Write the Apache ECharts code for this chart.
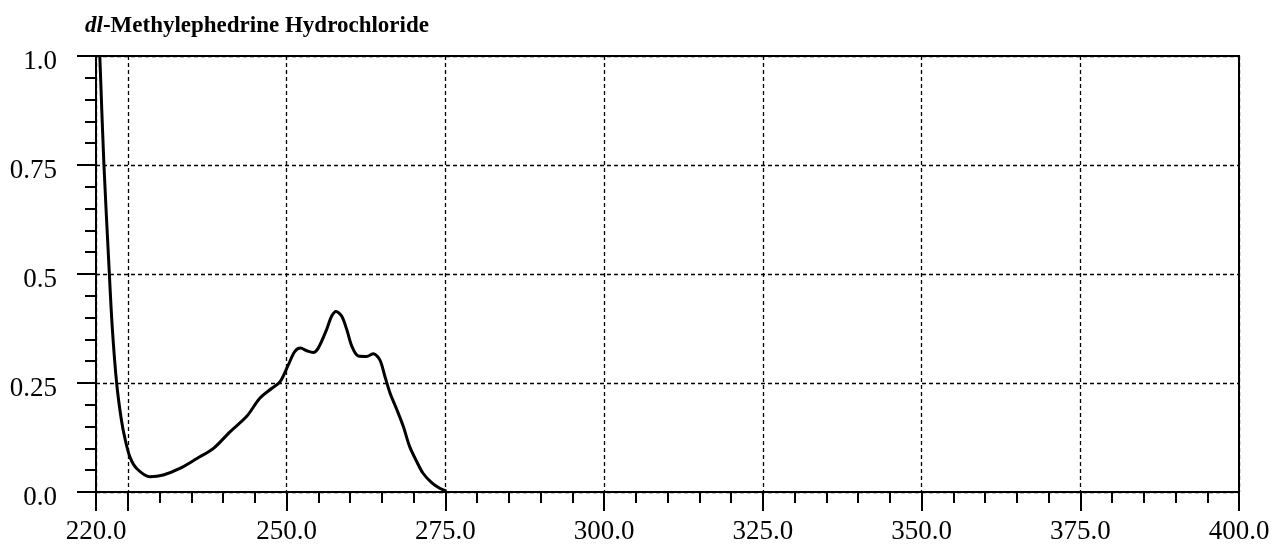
<!DOCTYPE html>
<html>
<head>
<meta charset="utf-8">
<script src="https://cdn.jsdelivr.net/npm/echarts@6/dist/echarts.min.js"></script>
<style>html,body{margin:0;padding:0;background:#fff;}#c{width:1277px;height:548px;}</style>
</head>
<body>
<div id="c"></div>
<script>
var wavelength = [220.6, 221.25, 222.0, 222.55, 223.25, 224.0, 224.6, 225.35, 226.4, 228.5, 230.6, 233.2, 235.9, 238.5, 241.1, 243.7, 245.8, 247.7, 249.0, 250.3, 251.3, 252.2, 253.2, 254.2, 255.0, 256.3, 257.1, 257.8, 258.7, 259.5, 260.3, 261.3, 262.6, 263.7, 264.7, 265.5, 266.3, 267.4, 268.4, 269.4, 270.5, 271.5, 272.9, 274.2, 275.2];
var absorbance = [1.0, 0.75, 0.53, 0.38, 0.25, 0.165, 0.12, 0.08, 0.054, 0.035, 0.039, 0.054, 0.077, 0.100, 0.138, 0.173, 0.215, 0.238, 0.253, 0.292, 0.322, 0.330, 0.324, 0.320, 0.330, 0.372, 0.403, 0.414, 0.403, 0.372, 0.334, 0.312, 0.311, 0.317, 0.303, 0.265, 0.227, 0.188, 0.150, 0.104, 0.070, 0.043, 0.021, 0.008, 0.002];
var xMajorTicks = [220, 225, 250, 275, 300, 325, 350, 375, 400];
var xLabels = [220, 250, 275, 300, 325, 350, 375, 400];
var yLabels = {0: '0.0', 0.25: '0.25', 0.5: '0.5', 0.75: '0.75', 1: '1.0'};
var titleMain = '-Methylephedrine Hydrochloride';
var titleItalic = 'dl';

var FONT = 'Liberation Serif';
var chart = echarts.init(document.getElementById('c'), null, {renderer: 'canvas'});
var dash = {color: '#000', width: 1.3, type: [4, 3]};
var data = wavelength.map(function (w, i) { return [w, absorbance[i]]; });
chart.setOption({
  animation: false,
  backgroundColor: '#fff',
  title: {
    text: '{i|' + titleItalic + '}{b|' + titleMain + '}',
    left: 80, top: 10,
    textStyle: {
      rich: {
        i: {fontFamily: FONT, fontSize: 23, fontWeight: 'bold', fontStyle: 'italic', color: '#000'},
        b: {fontFamily: FONT, fontSize: 23, fontWeight: 'bold', color: '#000'}
      }
    }
  },
  grid: {left: 96, right: 38, top: 56, bottom: 56, show: true, borderColor: '#000', borderWidth: 2, backgroundColor: 'transparent'},
  xAxis: [{
    type: 'value', min: 220, max: 400, interval: 5, position: 'bottom',
    axisLine: {show: true, onZero: false, lineStyle: {color: '#000', width: 2}},
    axisTick: {show: true, length: 19, customValues: xMajorTicks, lineStyle: {color: '#000', width: 2}},
    axisLabel: {show: true, customValues: xLabels, margin: 26, fontFamily: FONT, fontSize: 27, color: '#000',
      formatter: function (v) { return v.toFixed(1); }},
    splitLine: {show: true, lineStyle: dash}
  }, {
    type: 'value', min: 220, max: 400, interval: 5, position: 'bottom',
    axisLine: {show: false},
    axisTick: {show: true, length: 11, lineStyle: {color: '#000', width: 2}},
    axisLabel: {show: false},
    splitLine: {show: false}
  }],
  yAxis: [{
    type: 'value', min: 0, max: 1, interval: 0.25, position: 'left',
    axisLine: {show: true, onZero: false, lineStyle: {color: '#000', width: 2}},
    axisTick: {show: true, length: 19, lineStyle: {color: '#000', width: 2}},
    axisLabel: {show: true, margin: 39, fontFamily: FONT, fontSize: 27, color: '#000',
      verticalAlign: 'top', lineHeight: 12,
      formatter: function (v) { return yLabels[v] !== undefined ? yLabels[v] : String(v); }},
    splitLine: {show: true, lineStyle: dash}
  }, {
    type: 'value', min: 0, max: 1, interval: 0.05, position: 'left',
    axisLine: {show: false},
    axisTick: {show: true, length: 11, lineStyle: {color: '#000', width: 2}},
    axisLabel: {show: false},
    splitLine: {show: false}
  }],
  series: [{
    type: 'line', xAxisIndex: 0, yAxisIndex: 0, data: data, smooth: 0.3,
    symbol: 'none', lineStyle: {color: '#000', width: 3}
  }]
});
</script>
</body>
</html>
